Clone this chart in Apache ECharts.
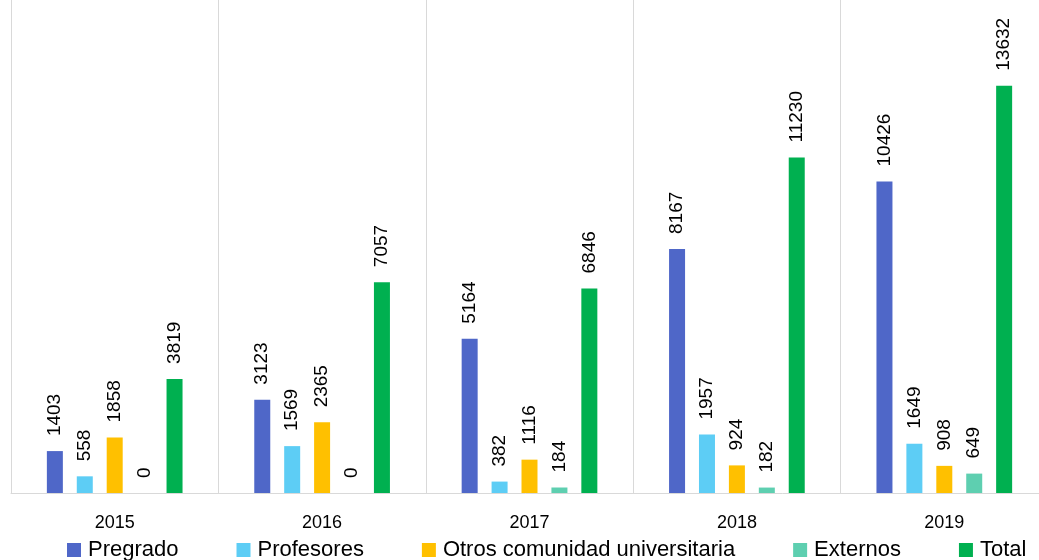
<!DOCTYPE html>
<html>
<head>
<meta charset="utf-8">
<script src="https://cdn.jsdelivr.net/npm/echarts@6/dist/echarts.min.js"></script>
<style>
  html, body { margin: 0; padding: 0; background: #fff; }
  #chart { width: 1039px; height: 560px; }
</style>
</head>
<body>
<div id="chart"></div>
<script>
// Yearly counts per group
const years = ['2015', '2016', '2017', '2018', '2019'];
const pregrado = [1403, 3123, 5164, 8167, 10426];
const profesores = [558, 1569, 382, 1957, 1649];
const otros = [1858, 2365, 1116, 924, 908];
const externos = [0, 0, 184, 182, 649];
const total = [3819, 7057, 6846, 11230, 13632];

const seriesDefs = [
  { name: 'Pregrado', data: pregrado, color: '#4F67C8' },
  { name: 'Profesores', data: profesores, color: '#5DCDF5' },
  { name: 'Otros comunidad universitaria', data: otros, color: '#FFC000' },
  { name: 'Externos', data: externos, color: '#5ECFB0' },
  { name: 'Total', data: total, color: '#00B050' }
];

const font = 'Liberation Sans, Arial, sans-serif';
const chart = echarts.init(document.getElementById('chart'));

chart.setOption({
  animation: false,
  // plot area runs slightly past the right edge of the canvas
  grid: { left: 11, width: 1037, top: 0, bottom: 67, containLabel: false, outerBoundsMode: 'none' },
  legend: {
    bottom: -1,
    left: 67,
    padding: 0,
    itemWidth: 14,
    itemHeight: 14,
    itemGap: 58,
    icon: 'rect',
    textStyle: { fontFamily: font, fontSize: 22, color: '#000', padding: [0, 0, 0, 2] },
    data: seriesDefs.map(s => s.name)
  },
  xAxis: {
    type: 'category',
    data: years,
    axisTick: { show: false },
    axisLine: { lineStyle: { color: '#D9D9D9', width: 1 } },
    splitLine: { show: true, lineStyle: { color: '#D9D9D9', width: 1 } },
    axisLabel: { fontFamily: font, fontSize: 18, color: '#000', margin: 21 }
  },
  yAxis: {
    type: 'value',
    min: 0,
    max: 16500,
    show: false,
    splitLine: { show: false }
  },
  series: seriesDefs.map(s => ({
    name: s.name,
    type: 'bar',
    data: s.data,
    barWidth: 16,
    barGap: '87%',
    barCategoryGap: '34%',
    itemStyle: { color: s.color },
    label: {
      show: true,
      position: 'top',
      rotate: 90,
      align: 'left',
      verticalAlign: 'middle',
      distance: 15,
      fontFamily: font,
      fontSize: 19,
      color: '#000'
    }
  }))
});
</script>
</body>
</html>
